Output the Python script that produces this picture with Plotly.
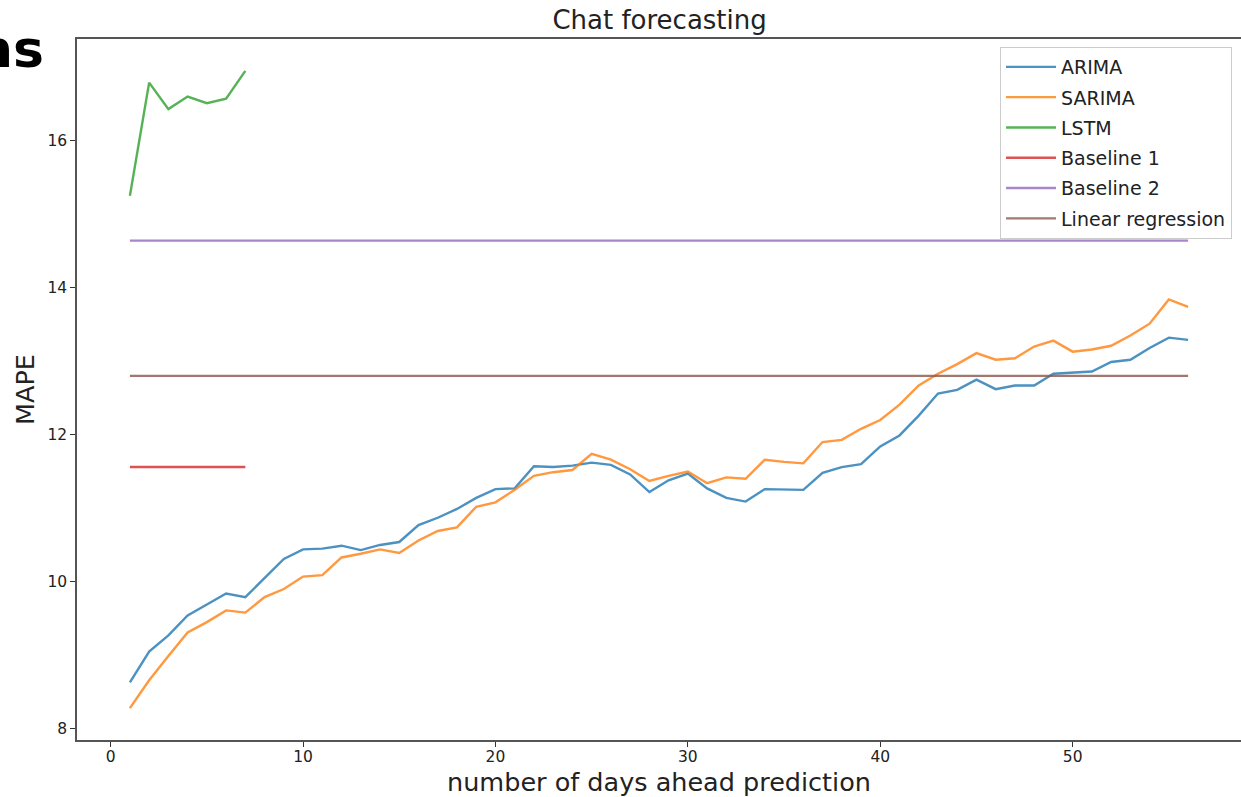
import plotly.graph_objects as go

# Forecast horizon (days ahead) and MAPE per model
days = list(range(1, 57))

arima = [8.63, 9.05, 9.27, 9.54, 9.69, 9.84, 9.79, 10.05, 10.31, 10.44,
         10.45, 10.49, 10.43, 10.50, 10.54, 10.77, 10.87, 10.99, 11.14, 11.26,
         11.27, 11.57, 11.56, 11.58, 11.62, 11.59, 11.46, 11.22, 11.38, 11.47,
         11.27, 11.14, 11.09, 11.26, 11.25, 11.25, 11.48, 11.56, 11.60, 11.84,
         11.99, 12.26, 12.56, 12.61, 12.75, 12.62, 12.67, 12.67, 12.83, 12.85,
         12.86, 12.99, 13.02, 13.18, 13.32, 13.29]

sarima = [8.28, 8.66, 8.99, 9.31, 9.45, 9.61, 9.58, 9.79, 9.90, 10.07,
          10.09, 10.33, 10.38, 10.44, 10.39, 10.56, 10.69, 10.74, 11.02, 11.08,
          11.25, 11.44, 11.49, 11.52, 11.74, 11.66, 11.53, 11.37, 11.44, 11.50,
          11.34, 11.42, 11.40, 11.66, 11.63, 11.61, 11.90, 11.93, 12.08, 12.20,
          12.41, 12.67, 12.83, 12.96, 13.11, 13.02, 13.04, 13.20, 13.28, 13.13,
          13.16, 13.21, 13.35, 13.51, 13.84, 13.74]

lstm_days = [1, 2, 3, 4, 5, 6, 7]
lstm = [15.25, 16.79, 16.43, 16.60, 16.51, 16.57, 16.95]

baseline1_days = [1, 7]
baseline1 = [11.56, 11.56]

baseline2_days = [1, 56]
baseline2 = [14.64, 14.64]

linreg_days = [1, 56]
linreg = [12.80, 12.80]

x_ticks = [0, 10, 20, 30, 40, 50]
y_ticks = [8, 10, 12, 14, 16]

series = [
    ("ARIMA", days, arima, "#1f77b4"),
    ("SARIMA", days, sarima, "#ff7f0e"),
    ("LSTM", lstm_days, lstm, "#2ca02c"),
    ("Baseline 1", baseline1_days, baseline1, "#d62728"),
    ("Baseline 2", baseline2_days, baseline2, "#9467bd"),
    ("Linear regression", linreg_days, linreg, "#8c564b"),
]

FONT = "DejaVu Sans"

fig = go.Figure()
for name, xs, ys, color in series:
    fig.add_trace(go.Scatter(
        x=xs, y=ys, name=name, mode="lines",
        line=dict(color=color, width=2.4),
        opacity=0.8, legendgroup=name,
    ))

# autoscale with 5% padding on each side
all_x = days + lstm_days + baseline1_days + baseline2_days + linreg_days
all_y = arima + sarima + lstm + baseline1 + baseline2 + linreg
xpad = 0.05 * (max(all_x) - min(all_x))
ypad = 0.05 * (max(all_y) - min(all_y))

axis_common = dict(
    showgrid=False, zeroline=False,
    showline=True, linecolor="#555555", linewidth=1.5,
    ticks="outside", ticklen=5, tickwidth=1.3, tickcolor="#333333",
    tickfont=dict(family=FONT, size=15.5, color="#222222"),
)

fig.update_layout(
    width=1241, height=797,
    margin=dict(l=77, r=0, t=39, b=57),
    paper_bgcolor="white", plot_bgcolor="white",
    font=dict(family=FONT, color="#222222"),
    title=dict(text="Chat forecasting", x=0.5315, xanchor="center",
               y=0.975, yanchor="middle",
               font=dict(family=FONT, size=26, color="#222222")),
    xaxis=dict(range=[min(all_x) - xpad, max(all_x) + xpad],
               tickvals=x_ticks, mirror=True, ticklabelstandoff=-3,
               title=dict(text="number of days ahead prediction",
                          font=dict(family=FONT, size=25.5, color="#222222"),
                          standoff=8),
               **axis_common),
    yaxis=dict(range=[min(all_y) - ypad, max(all_y) + ypad],
               tickvals=y_ticks,
               title=dict(text="MAPE",
                          font=dict(family=FONT, size=25.5, color="#222222"),
                          standoff=5),
               **axis_common),
    legend=dict(
        x=0.9923, xanchor="right", y=(739 - 47) / 700, yanchor="top",
        bgcolor="rgba(255,255,255,0.8)", bordercolor="#cccccc", borderwidth=1,
        font=dict(family=FONT, size=19, color="#222222"),
        tracegroupgap=2.6, traceorder="grouped", itemwidth=50,
    ),
    showlegend=True,
)

# heading fragment at the top-left corner of the page
fig.add_annotation(
    text="<b>ns</b>", xref="paper", yref="paper",
    x=-31 / 1164, y=(739 - 49) / 700, xanchor="right", yanchor="middle",
    showarrow=False, font=dict(family=FONT, size=52, color="black"),
)

fig.write_html("out.html")
